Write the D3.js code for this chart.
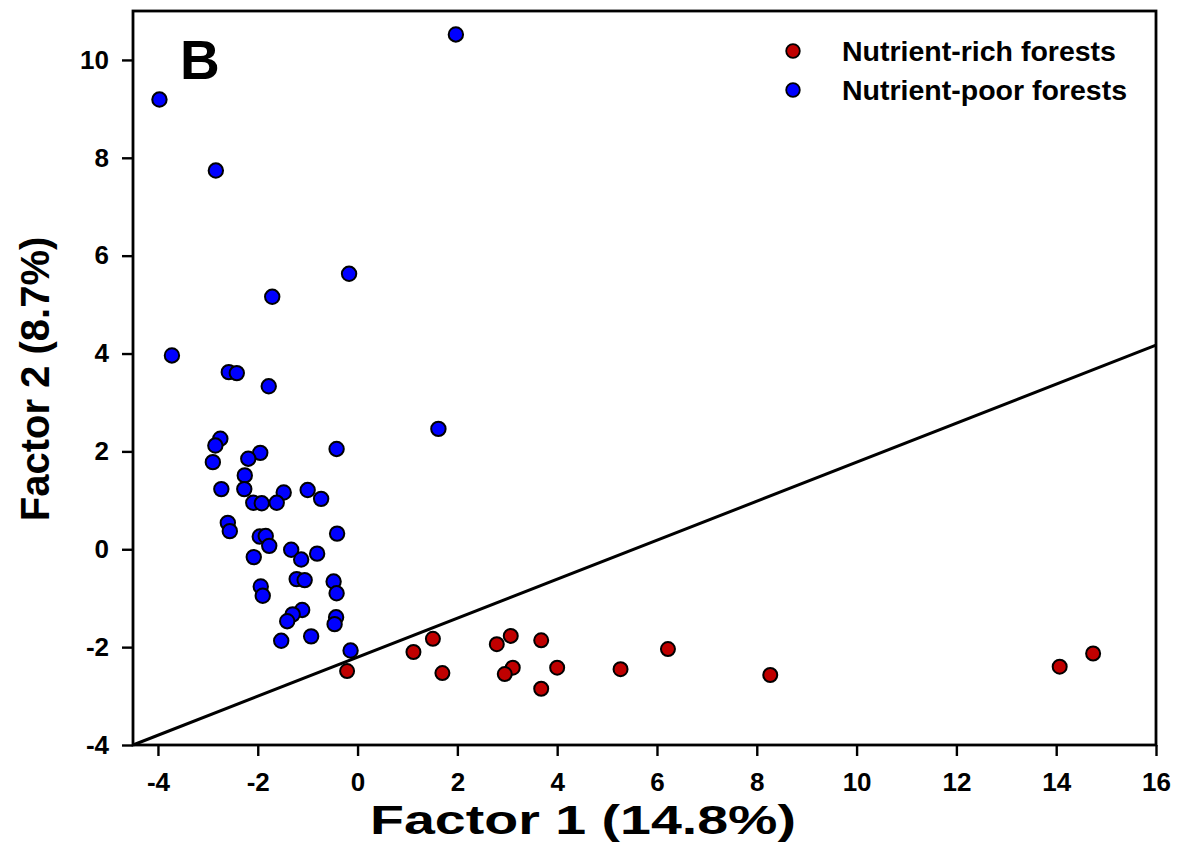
<!DOCTYPE html>
<html>
<head>
<meta charset="utf-8">
<script src="https://cdn.jsdelivr.net/npm/d3@7"></script>
<style>
  html, body { margin: 0; padding: 0; background: #fff; }
  svg text { font-family: "Liberation Sans", Arial, Helvetica, sans-serif; font-weight: bold; fill: #000; }
</style>
</head>
<body>
<svg id="chart" width="1181" height="862"></svg>
<script>
// Ordination scores (Factor 1, Factor 2) per plot
const poorX = [-3.97, -2.84, 1.97, -0.17, -1.71, -3.72, -2.58, -2.42, -1.78, -2.75,
               -2.85, -2.90, -0.42, -1.95, -2.19, -2.26, -2.73, -2.27, -1.48, -1.00,
               -0.73, -2.09, -1.92, -1.62, -2.60, -2.56, -0.41, -1.96, -1.84, -1.77,
               -1.33, -0.81, -2.08, -1.13, -1.22, -1.06, -0.48, -0.42, -1.94, -1.90,
               -1.11, -1.30, -1.41, -0.43, -0.46, -1.53, -0.93, -0.14, 1.62];
const poorY = [9.19, 7.74, 10.52, 5.63, 5.16, 3.96, 3.62, 3.60, 3.33, 2.26,
               2.12, 1.78, 2.05, 1.97, 1.85, 1.51, 1.23, 1.23, 1.16, 1.21,
               1.03, 0.95, 0.94, 0.95, 0.54, 0.37, 0.32, 0.26, 0.27, 0.07,
               -0.01, -0.09, -0.16, -0.21, -0.61, -0.63, -0.66, -0.90, -0.76, -0.95,
               -1.24, -1.33, -1.47, -1.39, -1.53, -1.87, -1.78, -2.07, 2.46];
const richX = [-0.21, 1.12, 1.51, 1.70, 2.79, 3.07, 3.11, 2.95, 3.68, 4.00,
               3.68, 5.27, 6.22, 8.27, 14.07, 14.74];
const richY = [-2.49, -2.10, -1.83, -2.53, -1.94, -1.77, -2.42, -2.55, -1.86, -2.42,
               -2.85, -2.45, -2.04, -2.57, -2.40, -2.13];

// Separating line between the two forest groups
const sepX = [-4.5, 16];
const sepY = [-4, 4.17];

const xTicks = [-4, -2, 0, 2, 4, 6, 8, 10, 12, 14, 16];
const yTicks = [-4, -2, 0, 2, 4, 6, 8, 10];

const seriesNames = ["Nutrient-rich forests", "Nutrient-poor forests"];
const seriesColors = ["#c00000", "#0000ff"];

const svg = d3.select("#chart");
const plotLeft = 133, plotRight = 1156, plotTop = 11, plotBottom = 745;

const x = d3.scaleLinear().domain([-4.5, 16]).range([plotLeft, plotRight]);
const y = d3.scaleLinear().domain([-4, 11]).range([plotBottom, plotTop]);

// Plain hyphen for negative tick values
const fmt = d => String(d);

// Axes with outward ticks
const xAxis = svg.append("g")
  .attr("transform", `translate(0,${plotBottom})`)
  .call(d3.axisBottom(x).tickValues(xTicks).tickSize(11).tickPadding(8).tickFormat(fmt));
const yAxis = svg.append("g")
  .attr("transform", `translate(${plotLeft},0)`)
  .call(d3.axisLeft(y).tickValues(yTicks).tickSize(11).tickPadding(13).tickFormat(fmt));

[xAxis, yAxis].forEach(g => {
  g.select(".domain").remove();
  g.selectAll(".tick line").attr("stroke", "#000").attr("stroke-width", 2.4);
  g.selectAll(".tick text")
    .style("font-family", '"Liberation Sans", Arial, sans-serif')
    .style("font-weight", "bold")
    .style("font-size", "26px")
    .attr("fill", "#000");
});
xAxis.selectAll(".tick text").attr("dy", "1.05em");

// Plot frame
svg.append("rect")
  .attr("x", plotLeft).attr("y", plotTop)
  .attr("width", plotRight - plotLeft).attr("height", plotBottom - plotTop)
  .attr("fill", "none").attr("stroke", "#000").attr("stroke-width", 2.8);

// Points
const plot = svg.append("g");
const rich = d3.zip(richX, richY);
const poor = d3.zip(poorX, poorY);

plot.selectAll("circle.rich").data(rich).join("circle")
  .attr("class", "rich")
  .attr("cx", d => x(d[0])).attr("cy", d => y(d[1]))
  .attr("r", 7)
  .attr("fill", seriesColors[0]).attr("stroke", "#000").attr("stroke-width", 2);

plot.selectAll("circle.poor").data(poor).join("circle")
  .attr("class", "poor")
  .attr("cx", d => x(d[0])).attr("cy", d => y(d[1]))
  .attr("r", 7.2)
  .attr("fill", seriesColors[1]).attr("stroke", "#000").attr("stroke-width", 2);

// Separating line
svg.append("line")
  .attr("x1", x(sepX[0])).attr("y1", y(sepY[0]))
  .attr("x2", x(sepX[1])).attr("y2", y(sepY[1]))
  .attr("stroke", "#000").attr("stroke-width", 3);

// Panel letter
svg.append("text")
  .attr("x", 180).attr("y", 79)
  .style("font-size", "55px")
  .text("B");

// Legend
const legend = svg.append("g");
seriesNames.forEach((name, i) => {
  const cy = 51 + i * 39;
  legend.append("circle")
    .attr("cx", 793).attr("cy", cy).attr("r", 6.8)
    .attr("fill", seriesColors[i]).attr("stroke", "#000").attr("stroke-width", 1.8);
  legend.append("text")
    .attr("x", 842).attr("y", cy + 10)
    .style("font-size", "28.5px")
    .text(name);
});

// Axis titles
svg.append("text")
  .attr("x", 370).attr("y", 834)
  .attr("textLength", 426)
  .attr("lengthAdjust", "spacingAndGlyphs")
  .style("font-size", "41px")
  .text("Factor 1 (14.8%)");

svg.append("text")
  .attr("transform", `translate(49,${(plotBottom + plotTop) / 2 + 1}) rotate(-90)`)
  .attr("text-anchor", "middle")
  .style("font-size", "40px")
  .text("Factor 2 (8.7%)");
</script>
</body>
</html>
